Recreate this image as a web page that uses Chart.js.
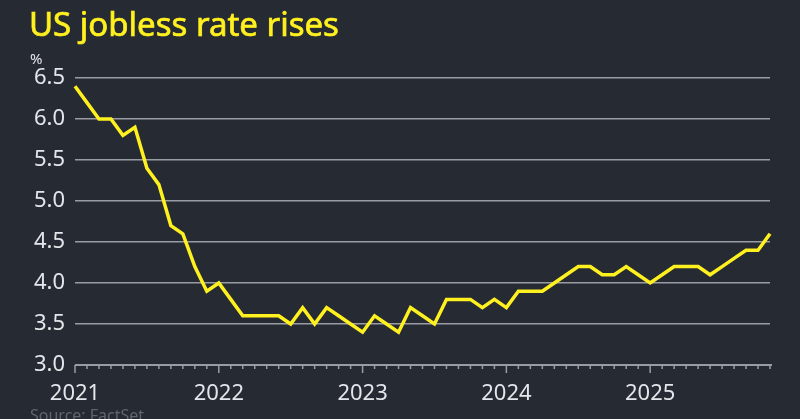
<!DOCTYPE html>
<html lang="en">
<head>
    <meta charset="UTF-8">
    <title>US jobless rate rises</title>
    <script src="https://cdn.jsdelivr.net/npm/chart.js"></script>
    <style>
        html, body { margin: 0; padding: 0; background: #262a33; }
        #wrap { position: relative; width: 800px; height: 419px; overflow: hidden; font-family: "Noto Sans", sans-serif; }
        #title { position: absolute; left: 29px; top: 1px; font-size: 33px; color: #fff01f; -webkit-text-stroke: 0.7px #fff01f; white-space: nowrap; }
        #unit { position: absolute; left: 30px; top: 48px; font-size: 15px; color: #e4e6ea; }
        #source { position: absolute; left: 30px; top: 404px; font-size: 16px; color: #60646c; white-space: nowrap; }
        canvas { position: absolute; left: 0; top: 0; }
    </style>
</head>
<body>
<div id="wrap">
    <canvas id="chart" width="800" height="419"></canvas>
    <div id="title">US jobless rate rises</div>
    <div id="unit">%</div>
    <div id="source">Source: FactSet</div>
</div>

<script>
    // monthly unemployment rate, Jan 2021 .. Nov 2025
    const startYear = 2021;
    const rates = [
        6.4, 6.2, 6.0, 6.0, 5.8, 5.9, 5.4, 5.2, 4.7, 4.6, 4.2, 3.9,   // 2021
        4.0, 3.8, 3.6, 3.6, 3.6, 3.6, 3.5, 3.7, 3.5, 3.7, 3.6, 3.5,   // 2022
        3.4, 3.6, 3.5, 3.4, 3.7, 3.6, 3.5, 3.8, 3.8, 3.8, 3.7, 3.8,   // 2023
        3.7, 3.9, 3.9, 3.9, 4.0, 4.1, 4.2, 4.2, 4.1, 4.1, 4.2, 4.1,   // 2024
        4.0, 4.1, 4.2, 4.2, 4.2, 4.1, 4.2, 4.3, 4.4, 4.4, 4.6         // 2025
    ];
    const yearTicks = [0, 12, 24, 36, 48];
    const yTicks = [3.0, 3.5, 4.0, 4.5, 5.0, 5.5, 6.0, 6.5];

    const points = rates.map((v, i) => ({ x: i, y: v }));
    const axisGrey = '#9a9ca3';

    // month ticks along the bottom axis
    const monthTicks = {
        id: 'monthTicks',
        afterDatasetsDraw(chart) {
            const ctx = chart.ctx;
            const xs = chart.scales.x;
            const bottom = chart.chartArea.bottom;
            ctx.save();
            ctx.strokeStyle = axisGrey;
            ctx.lineWidth = 2;
            ctx.beginPath();
            ctx.moveTo(xs.getPixelForValue(0), bottom);
            ctx.lineTo(xs.getPixelForValue(rates.length - 1) + 2, bottom);
            ctx.stroke();
            ctx.lineWidth = 1.5;
            for (let i = 0; i < rates.length; i++) {
                const px = xs.getPixelForValue(i);
                ctx.beginPath();
                ctx.moveTo(px, bottom);
                ctx.lineTo(px, bottom + (i % 12 === 0 ? 8 : 4));
                ctx.stroke();
            }
            ctx.restore();
        }
    };

    new Chart(document.getElementById('chart'), {
        type: 'line',
        data: {
            datasets: [{
                data: points,
                borderColor: '#fff01f',
                borderWidth: 3.5,
                pointRadius: 0,
                tension: 0,
                clip: false
            }]
        },
        options: {
            responsive: false,
            animation: false,
            layout: { padding: { top: 78, right: 30, left: 0, bottom: 0 } },
            plugins: { legend: { display: false }, tooltip: { enabled: false } },
            scales: {
                x: {
                    type: 'linear',
                    min: 0,
                    max: rates.length - 1,
                    afterBuildTicks: s => { s.ticks = yearTicks.map(v => ({ value: v })); },
                    afterFit: s => { s.height = 54; },
                    grid: { display: false },
                    border: { display: false },
                    ticks: {
                        color: '#e4e6ea',
                        font: { family: 'Noto Sans', size: 22 },
                        padding: 8,
                        maxRotation: 0,
                        callback: v => String(startYear + v / 12)
                    }
                },
                y: {
                    min: 3,
                    max: 6.5,
                    afterBuildTicks: s => { s.ticks = yTicks.map(v => ({ value: v })); },
                    afterFit: s => { s.width = 75; },
                    grid: {
                        color: ctx => ctx.tick && ctx.tick.value === 3 ? 'rgba(0,0,0,0)' : axisGrey,
                        lineWidth: 1.5,
                        drawTicks: false
                    },
                    border: { display: false },
                    ticks: {
                        color: '#e4e6ea',
                        font: { family: 'Noto Sans', size: 22 },
                        padding: 10,
                        callback: v => v.toFixed(1)
                    }
                }
            }
        },
        plugins: [monthTicks]
    });
</script>
</body>
</html>
